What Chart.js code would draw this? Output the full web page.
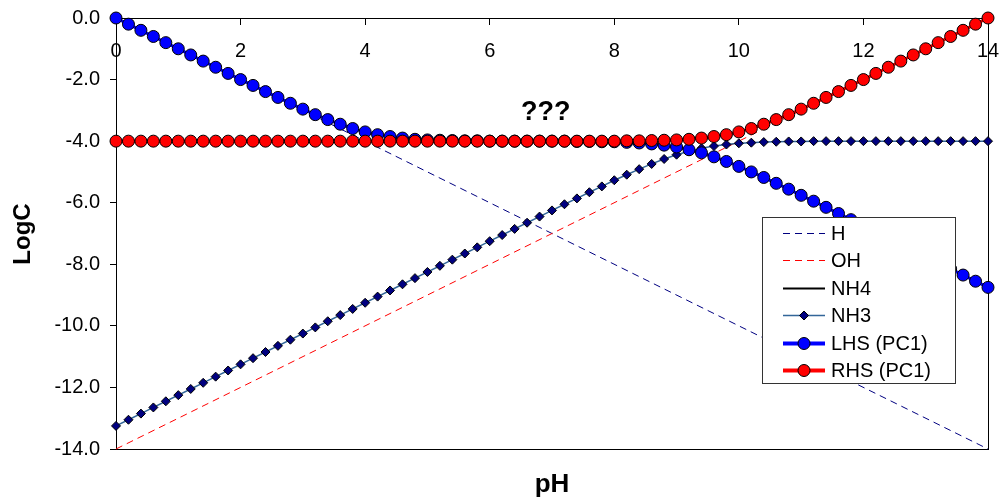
<!DOCTYPE html>
<html>
<head>
<meta charset="utf-8">
<title>LogC vs pH</title>
<script src="https://cdn.jsdelivr.net/npm/chart.js@4.4.0/dist/chart.umd.min.js"></script>
<style>
  html, body { margin: 0; padding: 0; background: #fff; }
  #wrap { width: 1001px; height: 499px; }
</style>
</head>
<body>
<div id="wrap"><canvas id="chart" width="1001" height="499"></canvas></div>
<script>
// ---- data ----
const pH = [
  0, 0.2, 0.4, 0.6, 0.8, 1, 1.2, 1.4, 1.6, 1.8,
  2, 2.2, 2.4, 2.6, 2.8, 3, 3.2, 3.4, 3.6, 3.8,
  4, 4.2, 4.4, 4.6, 4.8, 5, 5.2, 5.4, 5.6, 5.8,
  6, 6.2, 6.4, 6.6, 6.8, 7, 7.2, 7.4, 7.6, 7.8,
  8, 8.2, 8.4, 8.6, 8.8, 9, 9.2, 9.4, 9.6, 9.8,
  10, 10.2, 10.4, 10.6, 10.8, 11, 11.2, 11.4, 11.6, 11.8,
  12, 12.2, 12.4, 12.6, 12.8, 13, 13.2, 13.4, 13.6, 13.8,
  14,
];

const hPH = [0, 14];
const hLog = [0, -14];
const ohPH = [0, 14];
const ohLog = [-14, 0];

const nh4Log = [
  -4, -4, -4, -4, -4, -4, -4, -4, -4, -4,
  -4, -4, -4, -4, -4, -4, -4, -4, -4, -4,
  -4, -4, -4, -4, -4, -4, -4, -4, -4, -4,
  -4, -4, -4, -4, -4, -4, -4, -4.01, -4.01, -4.02,
  -4.02, -4.04, -4.06, -4.09, -4.13, -4.19, -4.28, -4.38, -4.51, -4.66,
  -4.82, -5.00, -5.18, -5.37, -5.56, -5.76, -5.95, -6.15, -6.35, -6.55,
  -6.75, -6.95, -7.15, -7.35, -7.55, -7.75, -7.95, -8.15, -8.35, -8.55,
  -8.75,
];

const nh3Log = [
  -13.25, -13.05, -12.85, -12.65, -12.45, -12.25, -12.05, -11.85, -11.65, -11.45,
  -11.25, -11.05, -10.85, -10.65, -10.45, -10.25, -10.05, -9.85, -9.65, -9.45,
  -9.25, -9.05, -8.85, -8.65, -8.45, -8.25, -8.05, -7.85, -7.65, -7.45,
  -7.25, -7.05, -6.85, -6.65, -6.45, -6.25, -6.05, -5.86, -5.66, -5.47,
  -5.27, -5.09, -4.91, -4.74, -4.58, -4.44, -4.33, -4.23, -4.16, -4.11,
  -4.07, -4.05, -4.03, -4.02, -4.01, -4.01, -4, -4, -4, -4,
  -4, -4, -4, -4, -4, -4, -4, -4, -4, -4,
  -4,
];

const lhsLog = [
  0, -0.2, -0.4, -0.6, -0.8, -1.0, -1.2, -1.4, -1.6, -1.8,
  -2.0, -2.19, -2.39, -2.58, -2.77, -2.96, -3.14, -3.30, -3.45, -3.59,
  -3.70, -3.79, -3.85, -3.90, -3.94, -3.96, -3.97, -3.98, -3.99, -3.99,
  -4, -4, -4, -4, -4, -4, -4, -4.01, -4.01, -4.02,
  -4.02, -4.04, -4.06, -4.09, -4.13, -4.19, -4.28, -4.38, -4.51, -4.66,
  -4.82, -5.00, -5.18, -5.37, -5.56, -5.76, -5.95, -6.15, -6.35, -6.55,
  -6.75, -6.95, -7.15, -7.35, -7.55, -7.75, -7.95, -8.15, -8.35, -8.55,
  -8.75,
];

const rhsLog = [
  -4, -4, -4, -4, -4, -4, -4, -4, -4, -4,
  -4, -4, -4, -4, -4, -4, -4, -4, -4, -4,
  -4, -4, -4, -4, -4, -4, -4, -4, -4, -4,
  -4, -4, -4, -4, -4, -4, -4, -4, -4, -4,
  -4, -3.99, -3.99, -3.98, -3.97, -3.96, -3.94, -3.90, -3.85, -3.79,
  -3.70, -3.59, -3.45, -3.30, -3.14, -2.96, -2.77, -2.58, -2.39, -2.19,
  -2.00, -1.80, -1.60, -1.40, -1.20, -1.00, -0.80, -0.60, -0.40, -0.20,
  0,
];

const FONT = "'Liberation Sans', Arial, sans-serif";
Chart.defaults.font.family = FONT;
Chart.defaults.color = '#000';

const toPoints = (xs, ys) => xs.map((x, i) => ({ x, y: ys[i] }));

// black frame round the plot area (drawn under the markers)
const framePlugin = {
  id: 'frame',
  beforeDatasetsDraw(chart) {
    const { ctx, chartArea: a } = chart;
    ctx.save();
    ctx.strokeStyle = '#000';
    ctx.lineWidth = 1;
    ctx.strokeRect(Math.round(a.left) + 0.5, Math.round(a.top) + 0.5,
      Math.round(a.right - a.left), Math.round(a.bottom - a.top));
    ctx.restore();
  },
};

function legendMarker(ctx, ds, x, y) {
  const r = ds.pointRadius;
  ctx.beginPath();
  if (ds.pointStyle === 'rectRot') {
    ctx.moveTo(x, y - r);
    ctx.lineTo(x + r, y);
    ctx.lineTo(x, y + r);
    ctx.lineTo(x - r, y);
    ctx.closePath();
  } else {
    ctx.arc(x, y, r, 0, Math.PI * 2);
  }
  ctx.fillStyle = ds.pointBackgroundColor;
  ctx.fill();
  ctx.strokeStyle = ds.pointBorderColor;
  ctx.lineWidth = ds.pointBorderWidth;
  ctx.stroke();
}

// titles, "???" note and the boxed legend
const textPlugin = {
  id: 'texts',
  afterDraw(chart) {
    const { ctx, scales } = chart;
    ctx.save();
    ctx.fillStyle = '#000';
    ctx.textAlign = 'center';
    ctx.textBaseline = 'middle';

    ctx.font = `bold 27px ${FONT}`;
    ctx.fillText('???', scales.x.getPixelForValue(6.9), scales.y.getPixelForValue(-3.07));

    ctx.font = `bold 26px ${FONT}`;
    ctx.fillText('pH', 552, 485);

    ctx.save();
    ctx.translate(23, 234);
    ctx.rotate(-Math.PI / 2);
    ctx.font = `bold 24px ${FONT}`;
    ctx.fillText('LogC', 0, 0);
    ctx.restore();

    // legend
    const bx = 762, by = 217, bw = 193, bh = 166;
    ctx.fillStyle = '#fff';
    ctx.fillRect(bx, by, bw, bh);
    ctx.strokeStyle = '#333';
    ctx.lineWidth = 1;
    ctx.strokeRect(bx + 0.5, by + 0.5, bw, bh);

    ctx.textAlign = 'left';
    ctx.font = `20px ${FONT}`;
    chart.data.datasets.forEach((ds, i) => {
      const y = Math.round(233 + i * 27.4) + 0.5;
      ctx.save();
      ctx.strokeStyle = ds.borderColor;
      ctx.lineWidth = ds.pointRadius > 5 ? 4 : ds.borderWidth;
      ctx.setLineDash(ds.borderDash || []);
      ctx.beginPath();
      ctx.moveTo(783, y);
      ctx.lineTo(825, y);
      ctx.stroke();
      ctx.restore();
      if (ds.pointRadius > 0) {
        ctx.save();
        legendMarker(ctx, ds, 804, y);
        ctx.restore();
      }
      ctx.fillStyle = '#000';
      ctx.fillText(ds.label, 831, y + 1);
    });
    ctx.restore();
  },
};

new Chart(document.getElementById('chart'), {
  type: 'line',
  data: {
    datasets: [
      {
        label: 'H',
        data: toPoints(hPH, hLog),
        borderColor: '#000080',
        borderWidth: 1,
        borderDash: [7, 5],
        pointRadius: 0,
        order: 6,
      },
      {
        label: 'OH',
        data: toPoints(ohPH, ohLog),
        borderColor: '#FF0000',
        borderWidth: 1,
        borderDash: [7, 5],
        pointRadius: 0,
        order: 5,
      },
      {
        label: 'NH4',
        data: toPoints(pH, nh4Log),
        borderColor: '#000000',
        borderWidth: 2,
        pointRadius: 0,
        order: 4,
      },
      {
        label: 'NH3',
        data: toPoints(pH, nh3Log),
        borderColor: '#336699',
        borderWidth: 1.5,
        pointStyle: 'rectRot',
        pointRadius: 4.5,
        pointBackgroundColor: '#000080',
        pointBorderColor: '#000000',
        pointBorderWidth: 1,
        order: 3,
      },
      {
        label: 'LHS (PC1)',
        data: toPoints(pH, lhsLog),
        borderColor: '#0000FF',
        borderWidth: 3,
        pointStyle: 'circle',
        pointRadius: 6,
        pointBackgroundColor: '#0000FF',
        pointBorderColor: '#000000',
        pointBorderWidth: 1,
        order: 2,
      },
      {
        label: 'RHS (PC1)',
        data: toPoints(pH, rhsLog),
        borderColor: '#FF0000',
        borderWidth: 3,
        pointStyle: 'circle',
        pointRadius: 6,
        pointBackgroundColor: '#FF0000',
        pointBorderColor: '#000000',
        pointBorderWidth: 1,
        order: 1,
      },
    ],
  },
  options: {
    responsive: false,
    animation: false,
    clip: false,
    layout: { padding: { left: 0, top: 18, right: 13, bottom: 50 } },
    elements: { line: { tension: 0 } },
    plugins: {
      legend: { display: false },
      tooltip: { enabled: false },
    },
    scales: {
      x: {
        type: 'linear',
        min: 0,
        max: 14,
        position: { y: 0 },
        afterFit: (s) => { s.height = 0; s.paddingLeft = 0; s.paddingRight = 0; },
        border: { display: true, color: '#000', width: 1 },
        grid: { drawOnChartArea: false, color: '#000', tickLength: 6 },
        ticks: {
          stepSize: 2,
          padding: 15,
          color: '#000',
          font: { size: 20 },
          callback: (v) => String(v),
        },
      },
      y: {
        min: -14,
        max: 0,
        afterFit: (s) => { s.width = 116; s.paddingTop = 0; s.paddingBottom = 0; },
        border: { display: true, color: '#000', width: 1 },
        grid: { drawOnChartArea: false, color: '#000', tickLength: 6 },
        ticks: {
          stepSize: 2,
          padding: 10,
          color: '#000',
          font: { size: 20 },
          callback: (v) => v.toFixed(1),
        },
      },
    },
  },
  plugins: [framePlugin, textPlugin],
});
</script>
</body>
</html>
